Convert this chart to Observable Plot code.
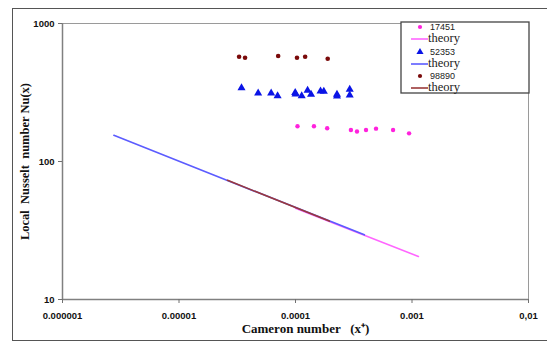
<!DOCTYPE html>
<html><head><meta charset="utf-8">
<script src="https://cdn.jsdelivr.net/npm/d3@7"></script>
<script src="https://cdn.jsdelivr.net/npm/@observablehq/plot@0.6"></script>
<style>
body{margin:0;background:#fff;}
#wrap{position:relative;width:547px;height:343px;overflow:hidden;background:#fff;}
#frame{position:absolute;left:12px;top:8px;width:560px;height:333px;border:1.5px solid #555;box-sizing:border-box;}
#chart{position:absolute;left:0;top:0;}
#legend{position:absolute;left:0;top:0;}
</style></head><body>
<div id="wrap"><div id="frame"></div><div id="chart"></div><svg id="legend" width="547" height="343"></svg></div>
<script>
// Axis ticks
const xTicks = [1e-6, 1e-5, 1e-4, 1e-3, 1e-2];
const xTickLabels = ["0.000001", "0.00001", "0.0001", "0.001", "0,01"];
const yTicks = [10, 100, 1000];
const yTickLabels = ["10", "100", "1000"];
const xTitle = "Cameron number   (x\u207A)";
const yTitle = "Local  Nusselt  number Nu(x)";

// Series names
const seriesNames = ["17451", "52353", "98890"];
const theoryName = "theory";

// Measured points
const x17451 = [1.04e-4, 1.44e-4, 1.87e-4, 2.99e-4, 3.37e-4, 4.03e-4, 4.91e-4, 6.88e-4, 9.44e-4];
const nu17451 = [180, 180, 174, 169, 165, 169, 173, 169, 160];

const x52353 = [3.44e-5, 4.78e-5, 6.18e-5, 7.02e-5, 9.94e-5, 1.0e-4, 1.13e-4, 1.27e-4, 1.36e-4, 1.64e-4, 1.75e-4, 2.27e-4, 2.27e-4, 2.92e-4, 2.92e-4];
const nu52353 = [342, 313, 313, 299, 315, 308, 299, 327, 306, 323, 322, 306, 297, 333, 303];

const x98890 = [3.28e-5, 3.69e-5, 7.1e-5, 1.03e-4, 1.21e-4, 1.89e-4];
const nu98890 = [574, 565, 581, 565, 574, 555];

// Theory lines (end points)
const theoryX17451 = [1.0e-4, 1.135e-3];
const theoryNu17451 = [45.9, 20.5];
const theoryX52353 = [2.76e-6, 3.9e-4];
const theoryNu52353 = [155, 29.4];
const theoryX98890 = [2.61e-5, 1.95e-4];
const theoryNu98890 = [73, 37];

const colors = {
  "17451": {dot: "#ff22dd", line: "#ff66ff"},
  "52353": {dot: "#0a14e6", line: "#5c5cff"},
  "98890": {dot: "#7a0a0a", line: "#9a3a3a"}
};

const pts = (xs, ys, s) => xs.map((x, i) => ({x, y: ys[i], s}));
const p17451 = pts(x17451, nu17451, "17451");
const p52353 = pts(x52353, nu52353, "52353");
const p98890 = pts(x98890, nu98890, "98890");
const t17451 = pts(theoryX17451, theoryNu17451, "17451");
const t52353 = pts(theoryX52353, theoryNu52353, "52353");
const t98890 = pts(theoryX98890, theoryNu98890, "98890");

const sans = "Liberation Sans, Arial, sans-serif";
const serif = "Liberation Serif, Times New Roman, serif";

const plot = Plot.plot({
  width: 547, height: 343,
  marginLeft: 62, marginRight: 19, marginTop: 23, marginBottom: 44,
  x: {type: "log", domain: [1e-6, 1e-2]},
  y: {type: "log", domain: [10, 1000]},
  style: {background: "transparent", overflow: "visible"},
  marks: [
    Plot.ruleY([1000], {stroke: "#9a9a9a", strokeWidth: 1}),
    Plot.ruleX([1e-2], {stroke: "#9a9a9a", strokeWidth: 1}),
    Plot.ruleY([10], {stroke: "#808080", strokeWidth: 1.5}),
    Plot.ruleX([1e-6], {stroke: "#808080", strokeWidth: 1.5}),
    Plot.axisX({ticks: xTicks, tickFormat: d => xTickLabels[xTicks.indexOf(d)], tickSize: 4, tickPadding: 9,
      fontWeight: "bold", fontSize: 9.5, fontFamily: sans, label: null, stroke: "#707070", color: "#111"}),
    Plot.axisY({ticks: yTicks, tickFormat: d => yTickLabels[yTicks.indexOf(d)], tickSize: 4, tickPadding: 4,
      fontWeight: "bold", fontSize: 9.5, fontFamily: sans, label: null, stroke: "#707070", color: "#111"}),
    Plot.line(t17451, {x: "x", y: "y", stroke: colors["17451"].line, strokeWidth: 1.6}),
    Plot.line(t52353, {x: "x", y: "y", stroke: colors["52353"].line, strokeWidth: 1.6}),
    Plot.line(t98890, {x: "x", y: "y", stroke: colors["98890"].line, strokeWidth: 1.6}),
    Plot.dot(p17451, {x: "x", y: "y", r: 2.2, fill: colors["17451"].dot, stroke: "none"}),
    Plot.dot(p52353, {x: "x", y: "y", r: 3, symbol: "triangle", fill: colors["52353"].dot, stroke: "none"}),
    Plot.dot(p98890, {x: "x", y: "y", r: 2.3, fill: colors["98890"].dot, stroke: "none"}),
    Plot.text([yTitle], {frameAnchor: "left", textAnchor: "middle", lineAnchor: "middle", dx: -38, rotate: -90,
      fontFamily: serif, fontWeight: "bold", fontSize: 12.5, fill: "#111"}),
    Plot.text([xTitle], {frameAnchor: "bottom", textAnchor: "middle", lineAnchor: "middle", dx: 10, dy: 29,
      fontFamily: serif, fontWeight: "bold", fontSize: 13, fill: "#111"})
  ]
});
document.getElementById("chart").appendChild(plot);

// Legend (inside plot area, top right)
const lg = d3.select("#legend");
lg.append("rect").attr("x", 401).attr("y", 22).attr("width", 128).attr("height", 71)
  .attr("fill", "#fff").attr("stroke", "#444").attr("stroke-width", 1.3);
const rows = [27, 52, 76];
seriesNames.forEach((name, i) => {
  const y0 = rows[i];
  const sym = i === 1 ? d3.symbolTriangle : d3.symbolCircle;
  const sz = i === 1 ? 22 : 14;
  lg.append("path").attr("d", d3.symbol(sym, sz)()).attr("transform", `translate(420,${y0})`)
    .attr("fill", colors[name].dot);
  lg.append("text").attr("x", 430).attr("y", y0).attr("dy", "0.35em").text(name)
    .attr("font-family", sans).attr("font-size", 9).attr("fill", "#222");
  lg.append("line").attr("x1", 411).attr("x2", 428).attr("y1", y0 + 12).attr("y2", y0 + 12)
    .attr("stroke", colors[name].line).attr("stroke-width", 1.6);
  lg.append("text").attr("x", 428).attr("y", y0 + 11).attr("dy", "0.35em").text(theoryName)
    .attr("font-family", serif).attr("font-size", 12.5).attr("fill", "#222");
});
</script>
</body></html>
